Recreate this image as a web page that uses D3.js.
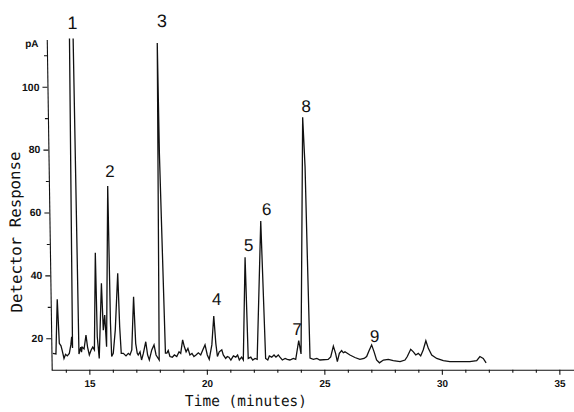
<!DOCTYPE html>
<html><head><meta charset="utf-8">
<script src="https://cdn.jsdelivr.net/npm/d3@7"></script>
<style>body{margin:0;background:#fff}svg{display:block}</style>
</head><body><svg id="c" width="574" height="412"></svg>
<script>
const times = [13.46,13.59,13.68,13.74,13.81,13.86,13.93,14.00,14.07,14.16,14.23,14.27,14.30,14.46,14.57,14.65,14.68,14.71,14.79,14.88,14.94,15.01,15.09,15.16,15.23,15.33,15.36,15.43,15.57,15.62,15.69,15.75,15.90,15.93,15.96,16.03,16.13,16.27,16.32,16.37,16.46,16.57,16.67,16.74,16.82,16.93,16.99,17.05,17.09,17.17,17.23,17.31,17.42,17.49,17.56,17.67,17.77,17.85,17.98,18.10,18.12,18.25,18.31,18.37,18.44,18.54,18.63,18.73,18.83,18.90,18.99,19.06,19.13,19.21,19.29,19.38,19.46,19.55,19.65,19.75,19.84,19.94,20.03,20.11,20.23,20.33,20.40,20.46,20.54,20.65,20.71,20.81,20.88,20.95,21.03,21.14,21.24,21.32,21.39,21.49,21.56,21.70,21.77,21.88,21.96,22.06,22.15,22.39,22.51,22.60,22.67,22.77,22.87,22.95,23.05,23.12,23.22,23.34,23.43,23.54,23.69,23.79,23.93,24.02,24.24,24.31,24.35,24.40,24.54,24.69,24.82,25.17,25.28,25.40,25.49,25.56,25.65,25.75,25.82,25.89,26.10,26.31,26.52,26.70,26.81,26.92,27.03,27.13,27.23,27.35,27.52,27.73,27.94,28.23,28.44,28.54,28.69,28.80,28.90,29.01,29.11,29.22,29.34,29.44,29.58,29.79,30.07,30.35,30.78,31.20,31.49,31.63,31.77,31.89];
const signal = [15.2,15.0,32.4,18.4,17.6,16.1,13.6,14.9,14.4,15.2,17.9,20.5,16.9,250,15.0,17.2,15.6,17.2,16.6,21.0,17.2,14.7,16.3,17.2,16.3,47.2,20.5,13.6,37.5,22.6,27.4,17.3,68.4,24.9,14.2,15.2,22.6,40.7,23.7,15.2,15.2,14.4,15.2,14.7,16.3,33.2,18.4,15.2,14.7,15.7,13.1,15.2,18.9,14.7,13.1,16.3,17.9,14.7,13.1,113.9,78.8,15.3,15.3,16.1,14.2,14.0,14.7,14.2,15.7,15.2,19.5,17.3,15.7,16.8,14.7,15.2,14.2,14.7,15.4,14.7,16.3,17.9,14.7,13.3,17.9,27.1,18.4,14.2,15.7,16.3,14.7,13.6,14.2,14.0,13.1,14.4,14.0,14.7,13.1,14.0,13.1,45.8,13.6,14.0,13.1,13.6,13.3,57.3,13.6,13.1,14.4,14.0,14.7,14.0,14.7,14.0,13.1,13.6,13.3,13.1,13.6,13.3,19.3,15.0,90.3,74.6,45.9,13.7,13.3,13.6,13.1,13.3,14.1,17.5,15.2,12.6,15.2,16.1,15.4,15.7,14.7,13.9,13.3,13.6,14.2,16.1,17.9,15.7,13.1,12.2,13.1,13.3,12.9,12.6,13.1,14.2,16.5,15.7,14.7,15.2,14.4,16.3,19.2,16.8,14.7,13.6,12.9,12.6,12.6,12.6,12.9,14.2,13.6,12.2];
const peakLabels = ["1","2","3","4","5","6","7","8","9"];
const peakLabelTimes = [14.50,16.00,18.31,20.46,21.86,22.65,23.87,24.40,27.16];
const peakLabelValues = [118.3,71.3,119.0,30.6,47.8,59.2,21.0,92.0,18.8];
const xMajorTicks = [15,20,25,30,35];
const xMinorTicks = [14,16,17,18,19,21,22,23,24,26,27,28,29,31,32,33,34];
const yMajorTicks = [20,40,60,80,100];
const yMinorTicks = [30,50,70,90,110];
const yUnit = "pA";
const xTitle = "Time (minutes)";
const yTitle = "Detector Response";

const svg = d3.select("#c");
const x = d3.scaleLinear().domain([13.4, 35.6]).range([51.7, 573.4]);
const y = d3.scaleLinear().domain([10, 115]).range([369.75, 39.5]);
const ink = "#111";

const g = svg.append("g").attr("transform", "translate(0,369) skewX(0.86) translate(0,-369)");

svg.append("defs").append("clipPath").attr("id", "plotclip")
  .append("rect").attr("x", 51.7).attr("y", 38.5).attr("width", 540).attr("height", 331);

// X axis
const xMinor = d3.axisBottom(x).tickValues(xMinorTicks).tickSize(3).tickSizeOuter(0).tickFormat("");
const xMajor = d3.axisBottom(x).tickValues(xMajorTicks).tickSize(5).tickSizeOuter(0).tickPadding(5).tickFormat(d3.format("d"));
const gxMin = g.append("g").attr("transform", `translate(0,${y(10)})`).call(xMinor);
const gxMaj = g.append("g").attr("transform", `translate(0,${y(10)})`).call(xMajor);
gxMin.select(".domain").remove();
gxMaj.select(".domain").attr("d", `M${x.range()[0]},0.5H580`);
[gxMin, gxMaj].forEach(a => { a.selectAll("line, path").attr("stroke", ink).attr("stroke-width", 1.1); });
gxMaj.selectAll("text").attr("font-family", "Liberation Sans, Arial, sans-serif").attr("font-size", 10).attr("font-weight", "bold").attr("fill", ink);

// Y axis
const yMinor = d3.axisLeft(y).tickValues(yMinorTicks).tickSize(3).tickSizeOuter(0).tickFormat("");
const yMajor = d3.axisLeft(y).tickValues(yMajorTicks).tickSize(5).tickSizeOuter(0).tickPadding(3).tickFormat(d3.format("d"));
const gyMin = g.append("g").attr("transform", `translate(${x.range()[0]},0)`).call(yMinor);
const gyMaj = g.append("g").attr("transform", `translate(${x.range()[0]},0)`).call(yMajor);
gyMin.select(".domain").remove();
[gyMin, gyMaj].forEach(a => { a.selectAll("line, path").attr("stroke", ink).attr("stroke-width", 1.1); });
gyMaj.selectAll("text").attr("font-family", "Liberation Sans, Arial, sans-serif").attr("font-size", 10.5).attr("font-weight", "bold").attr("fill", ink);

g.append("text").attr("x", x.range()[0] - 8.3).attr("y", y(112.5)).attr("text-anchor", "end")
  .attr("font-family", "Liberation Sans, Arial, sans-serif").attr("font-size", 10).attr("font-weight", "bold")
  .attr("fill", ink).text(yUnit);

// Trace
const pts = times.map((t, i) => [t, signal[i]]);
const line = d3.line().x(d => x(d[0])).y(d => y(d[1]));
g.append("path").attr("clip-path", "url(#plotclip)").attr("d", line(pts))
  .attr("fill", "none").attr("stroke", ink).attr("stroke-width", 1.3).attr("stroke-linejoin", "miter");

// Peak labels
g.selectAll("text.pk").data(peakLabels).join("text").attr("class", "pk")
  .attr("x", (d, i) => x(peakLabelTimes[i])).attr("y", (d, i) => y(peakLabelValues[i]))
  .attr("text-anchor", "middle").attr("font-family", "Liberation Sans, Arial, sans-serif")
  .attr("font-size", (d) => (d === "1" || d === "3") ? 18 : 17).attr("fill", ink).text(d => d);

// Titles
g.append("text").attr("x", 245.5).attr("y", 406.5).attr("text-anchor", "middle")
  .attr("font-family", "DejaVu Sans Mono, monospace").attr("font-size", 15)
  .attr("textLength", 122).attr("lengthAdjust", "spacingAndGlyphs").attr("fill", ink).text(xTitle);
g.append("text").attr("transform", "translate(23,232) rotate(-90)").attr("text-anchor", "middle")
  .attr("font-family", "DejaVu Sans Mono, monospace").attr("font-size", 15.5)
  .attr("textLength", 161).attr("lengthAdjust", "spacingAndGlyphs").attr("fill", ink).text(yTitle);
</script></body></html>
